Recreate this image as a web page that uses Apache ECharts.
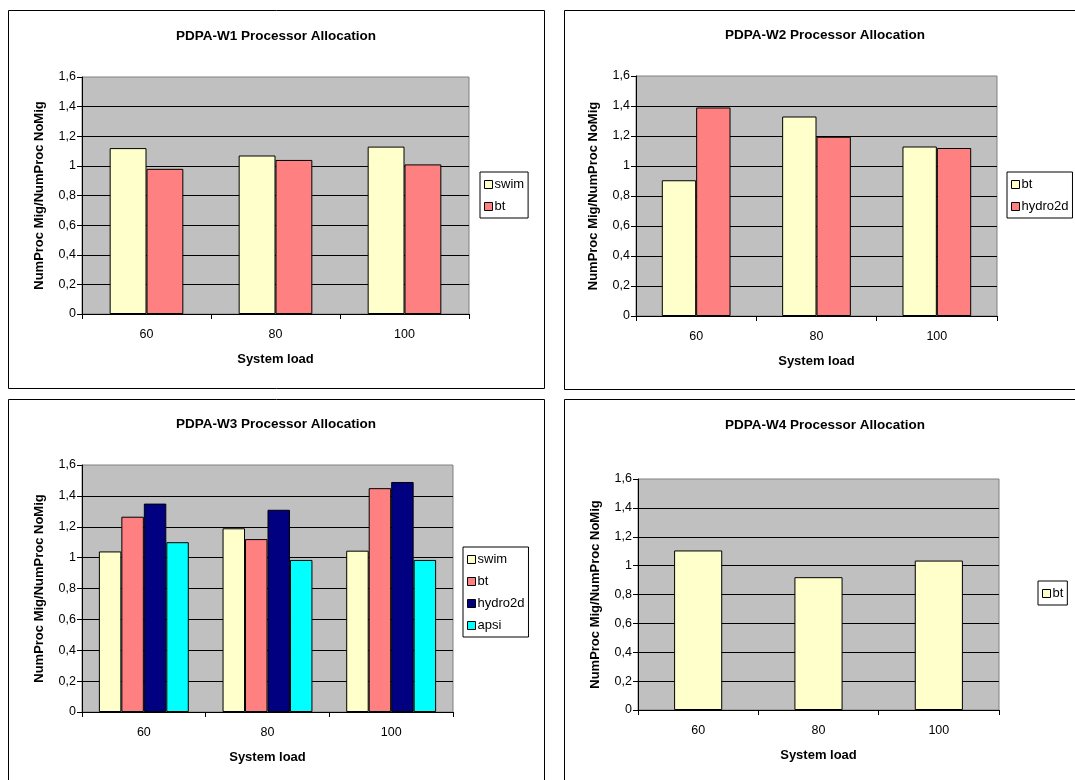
<!DOCTYPE html>
<html><head><meta charset="utf-8">
<script src="https://cdn.jsdelivr.net/npm/echarts@6/dist/echarts.min.js"></script>
<style>
html,body{margin:0;padding:0;background:#fff;overflow:hidden;width:1075px;height:780px;}
.panel{position:absolute;}
</style></head><body>
<div id="w1" class="panel" style="left:8px;top:10px;width:537px;height:379px"></div>
<div id="w2" class="panel" style="left:564px;top:10px;width:530px;height:380px"></div>
<div id="w3" class="panel" style="left:8px;top:399px;width:537px;height:400px"></div>
<div id="w4" class="panel" style="left:564px;top:399px;width:530px;height:400px"></div>
<script>
// ---- data ----
const categories = ['60', '80', '100'];
const yMin = 0, yMax = 1.6, yStep = 0.2;

const w1Swim = [1.12, 1.07, 1.13];
const w1Bt   = [0.98, 1.04, 1.01];

const w2Bt      = [0.905, 1.33, 1.13];
const w2Hydro2d = [1.39, 1.195, 1.12];

const w3Swim    = [1.04, 1.19, 1.045];
const w3Bt      = [1.265, 1.12, 1.45];
const w3Hydro2d = [1.35, 1.31, 1.49];
const w3Apsi    = [1.10, 0.985, 0.985];

const w4Bt = [1.105, 0.92, 1.035];

// ---- colours by series order ----
const PALETTE = ['#FFFFCC', '#FF8080', '#000080', '#00FFFF'];
const FONT = 'Liberation Sans, Arial, sans-serif';

function fmt(v) { return String(+(+v).toFixed(1)).replace('.', ','); }

function build(id, title, series, g, lg, tPos, gap) {
  const el = document.getElementById(id);
  const chart = echarts.init(el, null, { renderer: 'canvas' });
  const w = el.clientWidth, h = el.clientHeight;
  chart.setOption({
    animation: false,
    color: PALETTE,
    textStyle: { fontFamily: FONT },
    graphic: [
      { type: 'rect', shape: { x: 0.5, y: 0.5, width: w - 1, height: h - 1 },
        style: { fill: 'none', stroke: '#000', lineWidth: 1 }, silent: true },
      { type: 'text', x: tPos[0], y: tPos[1],
        style: { text: title, fontFamily: FONT, fontWeight: 'bold', fontSize: 13.5,
                 fill: '#000', textAlign: 'center', textVerticalAlign: 'middle' } }
    ],
    grid: { left: g[0], top: g[1], width: g[2], height: g[3], show: true,
            backgroundColor: '#C0C0C0', borderColor: '#808080', borderWidth: 1 },
    legend: {
      orient: 'vertical', left: lg[0], top: lg[1],
      data: series.map(s => s.name),
      itemWidth: 8, itemHeight: 8, itemGap: 9,
      padding: [6, 4, 5, 4],
      borderColor: '#000', borderWidth: 1, backgroundColor: '#fff',
      icon: 'rect',
      itemStyle: { borderColor: '#000', borderWidth: 1 },
      textStyle: { fontFamily: FONT, fontSize: 13, color: '#000', padding: [0, 0, 0, -3] }
    },
    xAxis: {
      type: 'category', data: categories,
      axisLine: { show: true, lineStyle: { color: '#000', width: 1 } },
      axisTick: { show: true, length: 5, lineStyle: { color: '#000' } },
      axisLabel: { color: '#000', fontSize: 12.5, margin: 14, fontFamily: FONT },
      name: 'System load', nameLocation: 'middle', nameGap: 39,
      nameTextStyle: { fontFamily: FONT, fontWeight: 'bold', fontSize: 13, color: '#000' }
    },
    yAxis: {
      type: 'value', min: yMin, max: yMax, interval: yStep,
      axisLine: { show: true, lineStyle: { color: '#000', width: 1 } },
      axisTick: { show: true, length: 5, lineStyle: { color: '#000' } },
      axisLabel: { color: '#000', fontSize: 12.5, margin: 6, fontFamily: FONT, formatter: fmt },
      splitLine: { show: true, showMaxLine: false, lineStyle: { color: '#000', width: 1 } },
      name: 'NumProc Mig/NumProc NoMig', nameLocation: 'middle', nameRotate: 90, nameGap: 36,
      nameTextStyle: { fontFamily: FONT, fontWeight: 'bold', fontSize: 13, color: '#000' }
    },
    series: series.map(s => ({
      name: s.name, type: 'bar', data: s.data,
      barGap: '0%', barCategoryGap: gap,
      itemStyle: { borderColor: '#000', borderWidth: 1 }
    }))
  });
}

build('w1', 'PDPA-W1 Processor Allocation',
  [{ name: 'swim', data: w1Swim }, { name: 'bt', data: w1Bt }],
  [74, 67, 387, 237], [472, 162], [268, 26], '42.9%');

build('w2', 'PDPA-W2 Processor Allocation',
  [{ name: 'bt', data: w2Bt }, { name: 'hydro2d', data: w2Hydro2d }],
  [72, 66, 361, 240], [443, 162], [261, 25], '42.9%');

build('w3', 'PDPA-W3 Processor Allocation',
  [{ name: 'swim', data: w3Swim }, { name: 'bt', data: w3Bt },
   { name: 'hydro2d', data: w3Hydro2d }, { name: 'apsi', data: w3Apsi }],
  [74, 66, 371, 247], [455, 148], [268, 25], '27.3%');

build('w4', 'PDPA-W4 Processor Allocation',
  [{ name: 'bt', data: w4Bt }],
  [74, 80, 361, 231], [474, 182], [261, 26], '60%');
</script>
</body></html>
